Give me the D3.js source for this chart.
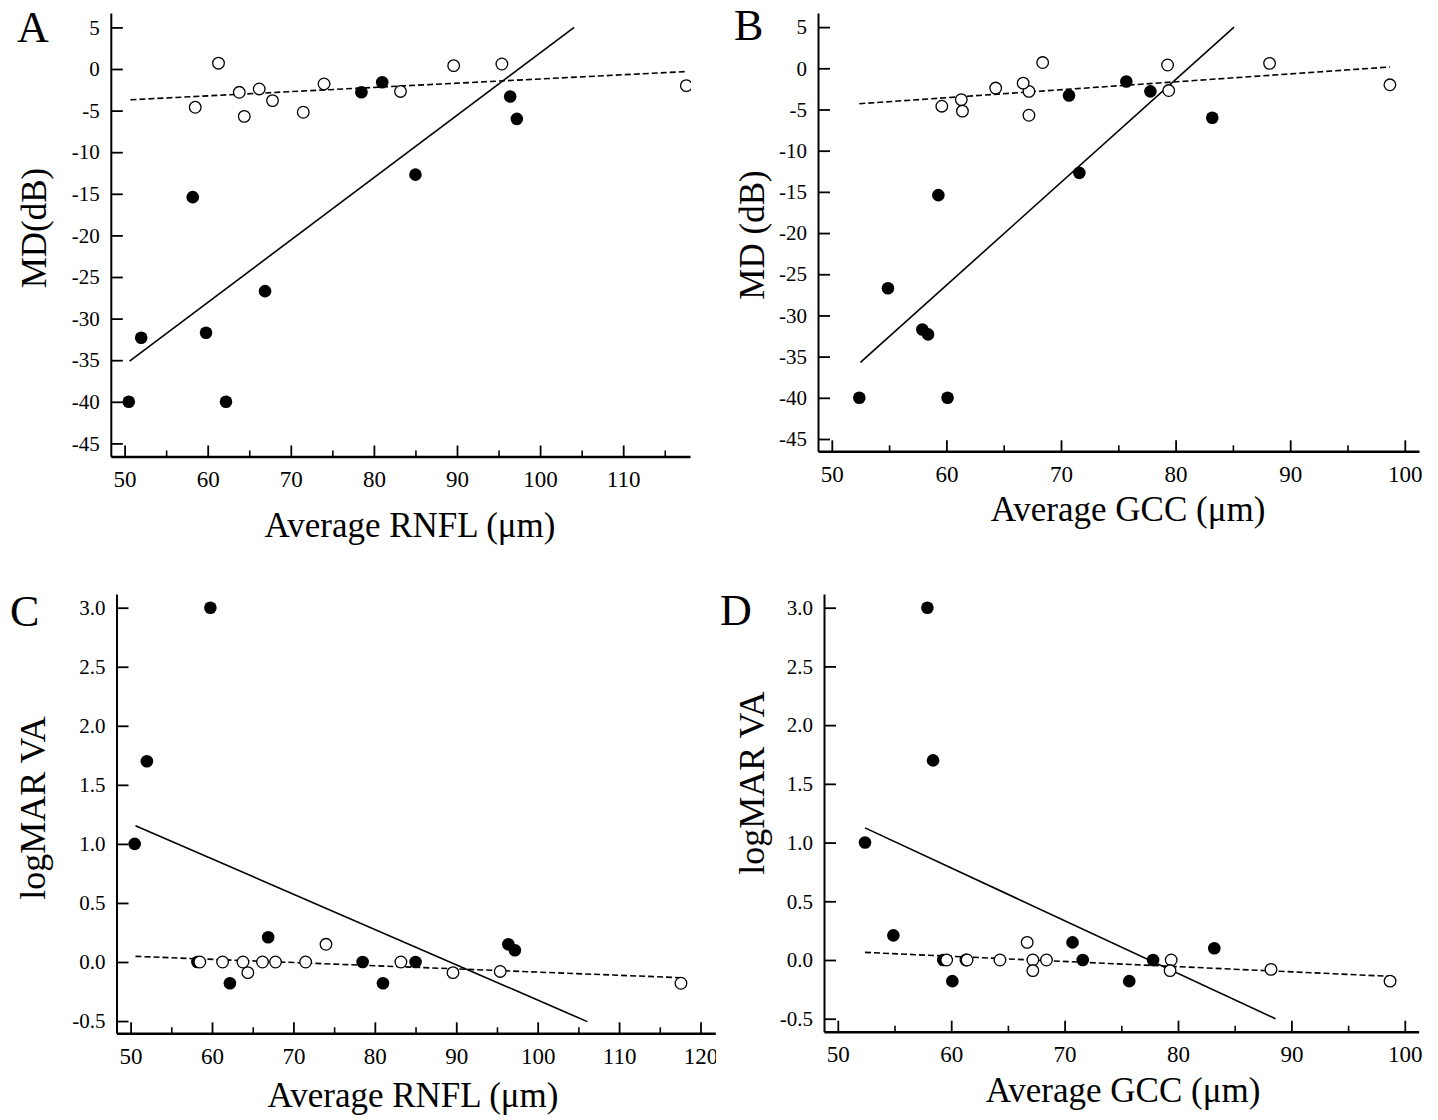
<!DOCTYPE html>
<html><head><meta charset="utf-8">
<script src="https://cdn.jsdelivr.net/npm/d3@7"></script>
<style>
body{margin:0;background:#fff;}
</style></head><body>
<svg id="chart" width="1438" height="1120"></svg>
<script>
// ---- Data (one entry per eye) ----
// open circles
const openRNFL = [58.5, 61.3, 63.8, 64.4, 66.2, 67.8, 71.5, 74.0, 83.2, 89.6, 95.4, 117.6];
const openGCC  = [59.6, 68.4, 67.2, 67.2, 64.3, 61.3, 61.4, 66.7, 79.4, 79.3, 88.2, 98.7];
const openMD   = [-4.6, 0.7, -2.8, -5.7, -2.4, -3.8, -5.2, -1.8, -2.7, 0.4, 0.6, -2.0];
const openVA   = [0, 0, 0, -0.09, 0, 0, 0, 0.15, 0, -0.09, -0.08, -0.18];
// filled circles
const filledRNFL = [50.5, 52.0, 58.2, 59.8, 62.2, 66.9, 78.5, 81.0, 85.0, 96.4, 97.2];
const filledGCC  = [52.4, 58.4, 59.3, 57.9, 60.1, 54.9, 77.8, 75.7, 71.6, 70.7, 83.2];
const filledMD   = [-40, -32.3, -15.4, -31.7, -40, -26.7, -2.8, -1.6, -12.7, -3.3, -6.0];
const filledVA   = [1.0, 1.7, 0, 3.0, -0.18, 0.21, 0, -0.18, 0, 0.15, 0.10];

// regression lines (endpoints)
const fitMDrnflFilled = [[50.6, -35.1], [104.1, 5.0]];
const fitMDrnflOpen   = [[50.7, -3.7], [117.7, -0.3]];
const fitMDgccFilled  = [[52.5, -35.7], [85.1, 5.0]];
const fitMDgccOpen    = [[52.4, -4.3], [98.7, 0.16]];
const fitVArnflFilled = [[50.6, 1.154], [106.1, -0.505]];
const fitVArnflOpen   = [[50.6, 0.048], [117.6, -0.133]];
const fitVAgccFilled  = [[52.4, 1.125], [88.6, -0.50]];
const fitVAgccOpen    = [[52.4, 0.065], [98.7, -0.139]];

// ticks
const mdTicks   = [5, 0, -5, -10, -15, -20, -25, -30, -35, -40, -45];
const vaTicks   = [3.0, 2.5, 2.0, 1.5, 1.0, 0.5, 0.0, -0.5];
const rnflTicks = [50, 60, 70, 80, 90, 100, 110, 120];
const rnflMinor = [55, 65, 75, 85, 95, 105, 115];
const gccTicks  = [50, 60, 70, 80, 90, 100];
const gccMinor  = [55, 65, 75, 85, 95];

const FONT = "'Liberation Serif', 'Times New Roman', Times, serif";
const svg = d3.select("#chart");
const defs = svg.append("defs");

const panels = [
  {letter:"A", lx:17, ly:42, ox:openRNFL, oy:openMD, fx:filledRNFL, fy:filledMD,
   fitF:fitMDrnflFilled, fitO:fitMDrnflOpen, xTicks:rnflTicks, xMinor:rnflMinor,
   yTicks:mdTicks, yFmt:d=>String(d),
   xRef:[50,100], xRefPx:[124.6,540.1], yRef:[0,-45], yRefPx:[69,443.4],
   left:110.8, right:690, top:13, bottom:456.5, clip:691,
   xTitle:"Average RNFL (μm)", xtx:410, xty:537, yTitle:"MD(dB)", ytx:46, yty:228, ytSize:35},
  {letter:"B", lx:734, ly:40, ox:openGCC, oy:openMD, fx:filledGCC, fy:filledMD,
   fitF:fitMDgccFilled, fitO:fitMDgccOpen, xTicks:gccTicks, xMinor:gccMinor,
   yTicks:mdTicks, yFmt:d=>String(d),
   xRef:[50,100], xRefPx:[831.8,1404.8], yRef:[0,-45], yRefPx:[68.3,439],
   left:818, right:1419, top:13, bottom:451.3, clip:null,
   xTitle:"Average GCC (μm)", xtx:1128, xty:521, yTitle:"MD (dB)", ytx:764, yty:235, ytSize:35},
  {letter:"C", lx:10, ly:626, ox:openRNFL, oy:openVA, fx:filledRNFL, fy:filledVA,
   fitF:fitVArnflFilled, fitO:fitVArnflOpen, xTicks:rnflTicks, xMinor:rnflMinor,
   yTicks:vaTicks, yFmt:d=>d.toFixed(1),
   xRef:[50,120], xRefPx:[130.6,700.5], yRef:[0,3], yRefPx:[962,607.7],
   left:116.5, right:715.3, top:594, bottom:1033.3, clip:716,
   xTitle:"Average RNFL (μm)", xtx:413, xty:1107, yTitle:"logMAR VA", ytx:45, yty:808, ytSize:36},
  {letter:"D", lx:720, ly:625, ox:openGCC, oy:openVA, fx:filledGCC, fy:filledVA,
   fitF:fitVAgccFilled, fitO:fitVAgccOpen, xTicks:gccTicks, xMinor:gccMinor,
   yTicks:vaTicks, yFmt:d=>d.toFixed(1),
   xRef:[50,100], xRefPx:[837.8,1404.8], yRef:[0,3], yRefPx:[960,607.7],
   left:824, right:1418.6, top:594, bottom:1031.7, clip:null,
   xTitle:"Average GCC (μm)", xtx:1123, xty:1102, yTitle:"logMAR VA", ytx:764, yty:783, ytSize:36}
];

panels.forEach((p, i) => {
  const g = svg.append("g");
  if (p.clip) {
    const id = "clip" + i;
    defs.append("clipPath").attr("id", id).append("rect")
      .attr("x", 0).attr("y", p.top - 20).attr("width", p.clip).attr("height", 600);
    g.attr("clip-path", `url(#${id})`);
  }
  const x0 = d3.scaleLinear().domain(p.xRef).range(p.xRefPx);
  const y0 = d3.scaleLinear().domain(p.yRef).range(p.yRefPx);
  const x = d3.scaleLinear().domain([x0.invert(p.left), x0.invert(p.right)]).range([p.left, p.right]);
  const y = d3.scaleLinear().domain([y0.invert(p.bottom), y0.invert(p.top)]).range([p.bottom, p.top]);

  // y axis
  const ya = g.append("g").attr("transform", `translate(${p.left},0)`)
    .call(d3.axisLeft(y).tickValues(p.yTicks).tickFormat(p.yFmt)
      .tickSizeInner(-12).tickSizeOuter(0).tickPadding(11));
  ya.attr("font-size", 21).attr("font-family", FONT);
  ya.selectAll("text").attr("font-family", FONT).attr("font-size", 21).attr("fill", "#000");
  ya.select(".domain").attr("stroke", "#000").attr("stroke-width", 2);
  ya.selectAll(".tick line").attr("stroke", "#000").attr("stroke-width", 1.8);

  // x axis major
  const xa = g.append("g").attr("transform", `translate(0,${p.bottom})`)
    .call(d3.axisBottom(x).tickValues(p.xTicks).tickFormat(d=>String(d))
      .tickSizeInner(-11).tickSizeOuter(0).tickPadding(14));
  xa.attr("font-size", 23).attr("font-family", FONT);
  xa.selectAll("text").attr("font-family", FONT).attr("font-size", 23).attr("fill", "#000");
  xa.select(".domain").attr("stroke", "#000").attr("stroke-width", 2.4);
  xa.selectAll(".tick line").attr("stroke", "#000").attr("stroke-width", 1.8);
  // x axis minor
  const xm = g.append("g").attr("transform", `translate(0,${p.bottom})`)
    .call(d3.axisBottom(x).tickValues(p.xMinor).tickFormat("").tickSizeInner(-6).tickSizeOuter(0));
  xm.select(".domain").remove();
  xm.selectAll(".tick line").attr("stroke", "#000").attr("stroke-width", 1.6);

  // regression lines
  const line = d3.line().x(d => x(d[0])).y(d => y(d[1]));
  g.append("path").attr("d", line(p.fitF)).attr("fill", "none")
    .attr("stroke", "#000").attr("stroke-width", 1.6);
  g.append("path").attr("d", line(p.fitO)).attr("fill", "none")
    .attr("stroke", "#000").attr("stroke-width", 1.6).attr("stroke-dasharray", "6,3");

  // points: filled first, then open on top
  g.append("g").selectAll("circle").data(d3.range(p.fx.length)).join("circle")
    .attr("cx", k => x(p.fx[k])).attr("cy", k => y(p.fy[k])).attr("r", 6.3)
    .attr("fill", "#000");
  g.append("g").selectAll("circle").data(d3.range(p.ox.length)).join("circle")
    .attr("cx", k => x(p.ox[k])).attr("cy", k => y(p.oy[k])).attr("r", 5.8)
    .attr("fill", "#fff").attr("stroke", "#000").attr("stroke-width", 1.3);

  // titles
  g.append("text").attr("x", p.xtx).attr("y", p.xty).attr("text-anchor", "middle")
    .attr("font-family", FONT).attr("font-size", 35).attr("fill", "#000").text(p.xTitle);
  g.append("text").attr("transform", `translate(${p.ytx},${p.yty}) rotate(-90)`)
    .attr("text-anchor", "middle").attr("font-family", FONT).attr("font-size", p.ytSize)
    .attr("fill", "#000").text(p.yTitle);
  svg.append("text").attr("x", p.lx).attr("y", p.ly).attr("font-family", FONT)
    .attr("font-size", 44).attr("fill", "#000").text(p.letter);
});
</script>
</body></html>
